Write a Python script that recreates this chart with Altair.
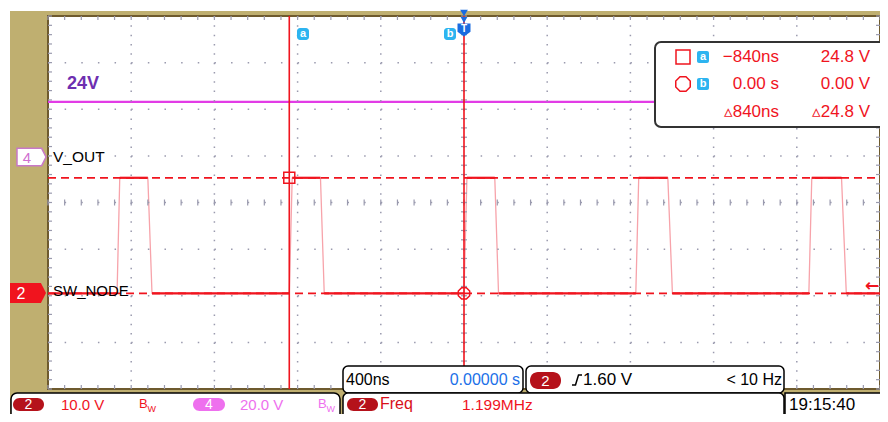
import altair as alt
import numpy as np
import pandas as pd

# ---------------- values ----------------
# SW_NODE (channel 2) trace: time in ns, level in volts
sw_time_ns = [-2000, -1668, -1655, -1520, -1500, -840, -826, -690, -672, 0, 14, 148, 166,
              826, 840, 980, 1002, 1658, 1672, 1815, 1838, 2000]
sw_volts = [0, 0, 24.8, 24.8, 0, 0, 24.8, 24.8, 0, 0, 24.8, 24.8, 0,
            0, 24.8, 24.8, 0, 0, 24.8, 24.8, 0, 0]
# V_OUT (channel 4) trace
vout_time_ns = [-2000, 2000]
vout_volts = [24.0, 24.0]
# cursors a / b
cursor_time_ns = [-840, 0]
cursor_volts = [24.8, 0.0]
meas_times = ["\u2212840ns", "0.00 s", "\u25b5840ns"]
meas_volts = ["24.8 V", "0.00 V", "\u25b524.8 V"]
# scope settings
timebase_ns_per_div = 400
ch2_volts_per_div = 10.0
ch4_volts_per_div = 20.0
ch2_offset_div = -1.95
ch4_offset_div = 0.96
trigger_level_v = 1.60
status_texts = {
    "timebase": "400ns", "delay": "0.00000 s", "trig": "1.60 V", "trigfreq": "< 10 Hz",
    "ch2": "10.0 V", "ch4": "20.0 V", "freq_label": "Freq", "freq": "1.199MHz", "clock": "19:15:40",
}

# ---------------- layout / style ----------------
W, H = 832, 373
X0, Y0 = 48, 16
XR, YB = X0 + W, Y0 + H
FONT = "Liberation Sans, Arial, sans-serif"
TAN = "#BFAF70"
BROWN = "#6E5A2E"
RED = "#F0141E"
PINK = "#F7A3AA"
DARKRED = "#B5121B"
MAG = "#E23CE6"
MAG2 = "#EE70EE"
PURPLE = "#6E2FB0"
GRID = "#9A9AAE"
CYAN = "#2DB4F0"
BLUE = "#1A6CE0"

one = pd.DataFrame({"k": [0]})
xs = alt.Scale(domain=[-5 * timebase_ns_per_div, 5 * timebase_ns_per_div], nice=False, zero=False)
ys = alt.Scale(domain=[-4, 4], nice=False, zero=False)


def X(f="t"):
    return alt.X(f"{f}:Q", scale=xs, axis=None)


def Y(f="y"):
    return alt.Y(f"{f}:Q", scale=ys, axis=None)


def px(x):
    return x - X0


def py(y):
    return y - Y0


def rect(x1, y1, x2, y2, fill, stroke=None, sw=0, r=0, **kw):
    props = dict(fill=fill, strokeWidth=sw, cornerRadius=r, opacity=1, **kw)
    if stroke:
        props["stroke"] = stroke
    return alt.Chart(one).mark_rect(**props).encode(
        x=alt.value(px(x1)), x2=alt.value(px(x2)), y=alt.value(py(y1)), y2=alt.value(py(y2)))


def text(s, x, y, color, size, align="left", weight="normal", font=FONT):
    return alt.Chart(one).mark_text(text=s, align=align, baseline="middle", color=color,
                                    fontSize=size, fontWeight=weight, font=font).encode(
        x=alt.value(px(x)), y=alt.value(py(y)))


def sym(shape, x, y, size, fill=None, stroke=None, sw=1.5):
    props = dict(shape=shape, size=size, strokeWidth=sw, opacity=1)
    if fill:
        props.update(filled=True, fill=fill)
    else:
        props.update(filled=False)
    if stroke:
        props["stroke"] = stroke
    else:
        props["strokeWidth"] = 0
    return alt.Chart(one).mark_point(**props).encode(x=alt.value(px(x)), y=alt.value(py(y)))


def ch2_div(v):
    return v / ch2_volts_per_div + ch2_offset_div


def ch4_div(v):
    return v / ch4_volts_per_div + ch4_offset_div


OCT = "M-0.41,-1L0.41,-1L1,-0.41L1,0.41L0.41,1L-0.41,1L-1,0.41L-1,-0.41Z"
SHIELD = "M-1,-1L1,-1L1,0.25L0,1L-1,0.25Z"
EDGE = "M-1,1L-0.3,1L0.3,-1L1,-1"

# ---------------- data frames ----------------
sw = pd.DataFrame({"t": sw_time_ns, "v": sw_volts})
sw["y"] = ch2_div(sw["v"])
flat = []
for i in range(len(sw_time_ns) - 1):
    if sw_volts[i] == sw_volts[i + 1]:
        flat.append({"t": sw_time_ns[i], "t2": sw_time_ns[i + 1], "y": ch2_div(sw_volts[i])})
flat = pd.DataFrame(flat)
vout = pd.DataFrame({"t": vout_time_ns, "y": [ch4_div(v) for v in vout_volts]})
cur_t = pd.DataFrame({"t": cursor_time_ns})
cur_y = pd.DataFrame({"y": [ch2_div(v) for v in cursor_volts]})
cur_pts = pd.DataFrame({"t": cursor_time_ns, "y": [ch2_div(v) for v in cursor_volts]})

step = timebase_ns_per_div
grid_x = pd.DataFrame({"t": np.arange(-4 * step, 4 * step + 1, step)})
grid_y = pd.DataFrame({"y": np.arange(-3, 4, 1)})
minor_x = pd.DataFrame({"t": np.arange(-5 * step, 5 * step + 1, step / 5), "y": 0.0})
minor_y = pd.DataFrame({"y": np.round(np.arange(-4, 4.001, 0.2), 3), "t": 0.0})

layers = []
# frame
layers.append(rect(10, 11, 900, 440, TAN))
layers.append(rect(X0, Y0, XR, YB, "white", stroke=BROWN, sw=2))

# traces
layers.append(alt.Chart(vout).mark_line(color=MAG, strokeWidth=2.2).encode(x=X(), y=Y()))
layers.append(alt.Chart(sw).mark_line(color=PINK, strokeWidth=1.3).encode(x=X(), y=Y()))
layers.append(alt.Chart(flat).mark_rule(color=RED, strokeWidth=2.2).encode(
    x=X(), x2=alt.X2("t2:Q"), y=Y()))

# dotted graticule
dx = W / 10 / 5
dy = H / 8 / 5
layers.append(alt.Chart(grid_x).mark_rule(color=GRID, strokeWidth=1.5, strokeDash=[1.5, dy - 1.5]).encode(
    x=X(), y=alt.value(0), y2=alt.value(H)))
layers.append(alt.Chart(grid_y).mark_rule(color=GRID, strokeWidth=1.5, strokeDash=[1.5, dx - 1.5]).encode(
    y=Y(), x=alt.value(0), x2=alt.value(W)))
layers.append(alt.Chart(minor_x).mark_tick(orient="vertical", size=6, thickness=1.2, color=GRID, opacity=1).encode(
    x=X(), y=Y()))
layers.append(alt.Chart(minor_y).mark_tick(orient="horizontal", size=6, thickness=1.2, color=GRID, opacity=1).encode(
    x=X(), y=Y()))
layers.append(alt.Chart(minor_x).mark_rule(color=GRID, strokeWidth=1.2).encode(
    x=X(), y=alt.value(0), y2=alt.value(4)))
layers.append(alt.Chart(minor_x).mark_rule(color=GRID, strokeWidth=1.2).encode(
    x=X(), y=alt.value(H - 4), y2=alt.value(H)))
layers.append(alt.Chart(minor_y).mark_rule(color=GRID, strokeWidth=1.2).encode(
    y=Y(), x=alt.value(0), x2=alt.value(4)))
layers.append(alt.Chart(minor_y).mark_rule(color=GRID, strokeWidth=1.2).encode(
    y=Y(), x=alt.value(W - 4), x2=alt.value(W)))

# cursors
layers.append(alt.Chart(cur_y).mark_rule(color=RED, strokeWidth=1.8, strokeDash=[8, 5]).encode(
    y=Y(), x=alt.value(0), x2=alt.value(W)))
layers.append(alt.Chart(cur_t).mark_rule(color=RED, strokeWidth=1.6).encode(
    x=X(), y=alt.value(0), y2=alt.value(H)))
layers.append(alt.Chart(cur_pts.iloc[[0]]).mark_point(shape="square", size=121, filled=False, color=RED,
                                                      strokeWidth=1.5, opacity=1).encode(x=X(), y=Y()))
layers.append(alt.Chart(cur_pts.iloc[[1]]).mark_point(shape=OCT, size=130, filled=False, color=RED,
                                                      strokeWidth=1.5, opacity=1).encode(x=X(), y=Y()))

# cursor tags a / b and trigger marker
for lab, cx in (("a", 303), ("b", 450)):
    layers.append(rect(cx - 6, 28, cx + 6, 40, CYAN, r=3))
    layers.append(text(lab, cx, 33.5, "white", 11, align="center", weight="bold"))
layers.append(sym("triangle-down", X0 + W / 2, 13, 60, fill=BLUE))
layers.append(sym("triangle-down", X0 + W / 2, 20, 45, fill=BLUE))
layers.append(sym(SHIELD, X0 + W / 2, 30, 169, fill=BLUE))
layers.append(text("T", X0 + W / 2, 29, "white", 10, align="center", weight="bold"))

# channel markers and names
layers.append(sym("M-1,-0.6L0.7,-0.6L1,0L0.7,0.6L-1,0.6Z", 31.5, 157, 841, fill="white", stroke="#C878C8", sw=1.5))
layers.append(text("4", 27, 157.5, "#D070D0", 15, align="center"))
layers.append(sym("M-1,-0.56L0.72,-0.56L1,0L0.72,0.56L-1,0.56Z", 28, 293, 1296, fill=RED))
layers.append(text("2", 21, 293.5, "white", 16, align="center"))
layers.append(text("V_OUT", 53, 157, "black", 15.5))
layers.append(text("SW_NODE", 53, 291, "black", 15))
layers.append(text("24V", 67, 84, PURPLE, 18, weight="bold"))
layers.append(text("\u2190", 872, 286, RED, 17, align="center", weight="bold", font="DejaVu Sans"))

# measurement box
layers.append(rect(655, 42, 900, 127, "white", stroke="#333333", sw=2, r=6))
layers.append(sym("square", 683, 57, 196, stroke=RED))
layers.append(sym(OCT, 683, 84, 210, stroke=RED))
for lab, cy in (("a", 57), ("b", 84)):
    layers.append(rect(697, cy - 6, 709, cy + 6, CYAN, r=2))
    layers.append(text(lab, 703, cy - 0.5, "white", 11, align="center", weight="bold"))
for i, cy in enumerate((57, 84, 112)):
    layers.append(text(meas_times[i], 779, cy, RED, 17, align="right"))
    layers.append(text(meas_volts[i], 870, cy, RED, 17, align="right"))

# status bar: upper boxes
layers.append(rect(343, 366, 523, 393, "white", stroke="black", sw=1.5, r=5))
layers.append(text(status_texts["timebase"], 346, 380, "black", 16))
layers.append(text(status_texts["delay"], 520, 380, "#2070E8", 16, align="right"))
layers.append(rect(526, 366, 784, 393, "white", stroke="black", sw=1.5, r=5))
layers.append(rect(530, 372, 561, 389, DARKRED, r=8))
layers.append(text("2", 545.5, 380.5, "white", 15, align="center"))
layers.append(sym(EDGE, 577, 380, 100, stroke="black", sw=1.5))
layers.append(text(status_texts["trig"], 583, 380, "black", 17))
layers.append(text(status_texts["trigfreq"], 782, 380, "black", 16, align="right"))

# status bar: lower boxes (the page margin trims the last rows, so keep text compact)
RY = 404.5
layers.append(rect(11, 393, 340, 440, "white", stroke="black", sw=1.5, r=6))
layers.append(rect(13, RY - 6.5, 44, RY + 6.5, DARKRED, r=6.5))
layers.append(text("2", 28.5, RY, "white", 14, align="center"))
layers.append(text(status_texts["ch2"], 61, RY, RED, 15))
layers.append(text("B", 139, RY - 1, RED, 13))
layers.append(text("W", 147.5, RY + 4, RED, 9))
layers.append(rect(193, RY - 6.5, 225, RY + 6.5, MAG2, r=6.5))
layers.append(text("4", 209, RY, "white", 14, align="center"))
layers.append(text(status_texts["ch4"], 240, RY, MAG2, 15))
layers.append(text("B", 318, RY - 1, MAG2, 13))
layers.append(text("W", 326.5, RY + 4, MAG2, 9))
layers.append(rect(343, 393, 784, 440, "white", stroke="black", sw=1.5, r=5))
layers.append(rect(347, RY - 6.5, 378, RY + 6.5, DARKRED, r=6.5))
layers.append(text("2", 362.5, RY, "white", 14, align="center"))
layers.append(text(status_texts["freq_label"], 380, RY - 0.5, "#D8101A", 16))
layers.append(text(status_texts["freq"], 462, RY, RED, 15.5))
layers.append(rect(785, 393, 900, 440, "white", stroke="black", sw=1.5, r=0))
layers.append(text(status_texts["clock"], 789, RY, "black", 17))

chart = alt.layer(*layers).properties(
    width=W, height=H,
    padding={"left": 40, "top": 8, "right": 0, "bottom": 25},
    autosize=alt.AutoSizeParams(type="none"),
    background="white",
).configure_view(strokeWidth=0)

chart.save("out.html", embed_options={"renderer": "svg", "actions": False})
